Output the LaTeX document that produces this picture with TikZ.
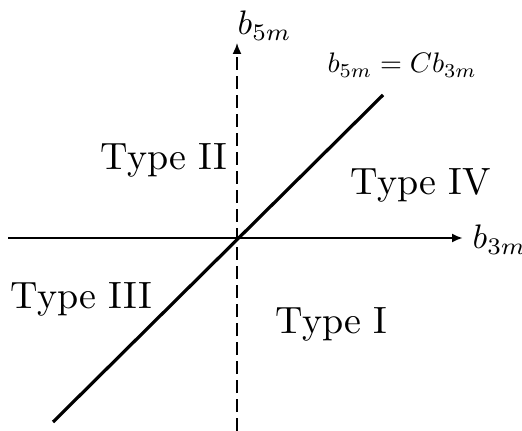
\documentclass[tikz,border=0pt]{standalone}
\usetikzlibrary{arrows.meta}
\tikzset{
  axis/.style={line width=1.4pt,-{Latex[length=5.5pt,width=4.5pt]}},
  vaxis/.style={line width=0.8pt,dash pattern=on 6.5pt off 3pt,-{Latex[length=5.5pt,width=4.5pt]}},
  diag/.style={line width=1.6pt},
  typelab/.style={anchor=base west,inner sep=0pt,scale=1.9},
  axlab/.style={anchor=base west,inner sep=0pt,scale=1.7},
  eqlab/.style={anchor=base west,inner sep=0pt,scale=1.41}
}
\begin{document}
\begin{tikzpicture}[x=0.5pt,y=-0.5pt]
\useasboundingbox (0,0) rectangle (522,431);
\coordinate (hl) at (8,238);
\coordinate (hr) at (463,238);
\coordinate (vb) at (237,431);
\coordinate (vt) at (237,43);
\coordinate (dl) at (53,422);
\coordinate (dr) at (383,95);
\draw[vaxis] (vb) -- (vt);
\draw[axis] (hl) -- (hr);
\draw[diag] (dl) -- (dr);
\node[axlab] (b5) at (237,35) {$b_{5m}$};
\node[axlab] (b3) at (472,249) {$b_{3m}$};
\node[eqlab] (eq) at (327,73) {$b_{5m}=Cb_{3m}$};
\node[typelab] (t2) at (100,170) {Type II};
\node[typelab] (t4) at (350,195) {Type IV};
\node[typelab] (t3) at (10,308) {Type III};
\node[typelab] (t1) at (275,333) {Type I};
\end{tikzpicture}
\end{document}
